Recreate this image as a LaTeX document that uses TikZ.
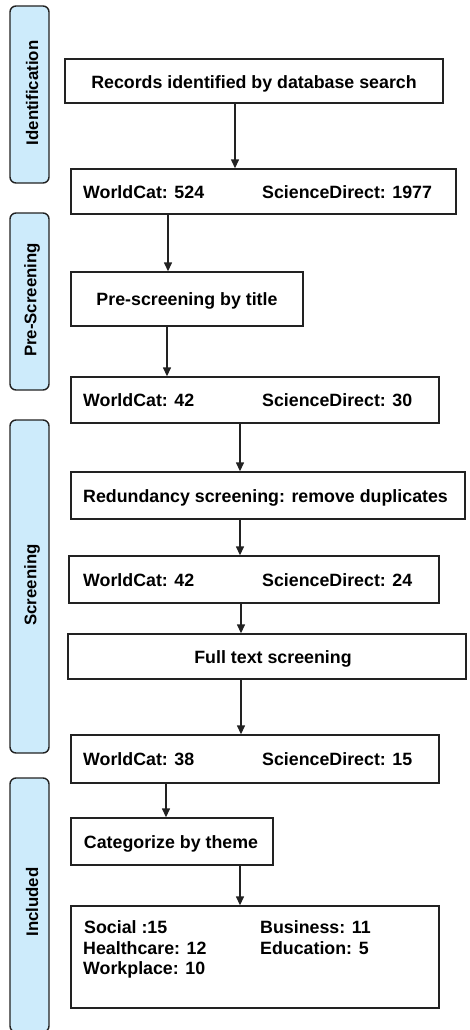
\documentclass[tikz,border=0pt]{standalone}
\usepackage{fontspec}
\setmainfont{Liberation Sans}
\usetikzlibrary{arrows.meta}
\definecolor{barblue}{HTML}{CDEBFB}
\definecolor{linegray}{HTML}{222222}
\tikzset{
  box/.style={draw=linegray, line width=1.4pt, rectangle, inner sep=0pt, fill=white},
  bar/.style={draw=linegray, line width=1.4pt, rectangle, rounded corners=6pt, fill=barblue, inner sep=0pt},
  barlabel/.style={rotate=90, font=\fontsize{16.8}{19}\selectfont\bfseries, inner sep=0pt},
  txt/.style={font=\fontsize{17.8}{20.5}\selectfont\bfseries, inner sep=0pt, anchor=base},
  ltxt/.style={txt, anchor=base west},
  arr/.style={line width=1.4pt, draw=linegray, -{Triangle[length=9pt,width=8pt]}}
}
\begin{document}
\begin{tikzpicture}[x=1pt,y=-1pt]
\useasboundingbox (0,0) rectangle (470,1030);
% side bars
\node[bar, minimum width=39pt, minimum height=177pt] (s1) at (29.5,94.5) {};
\node[bar, minimum width=39pt, minimum height=177pt] (s2) at (29.5,301.5) {};
\node[bar, minimum width=39pt, minimum height=333pt] (s3) at (29.5,586.5) {};
\node[bar, minimum width=39pt, minimum height=254pt] (s4) at (29.5,905) {};
\node[barlabel] (l1) at (32,93) {Identification};
\node[barlabel] (l2) at (32,300) {Pre-Screening};
\node[barlabel] (l3) at (32,585) {Screening};
\node[barlabel] (l4) at (32,902) {Included};
% boxes
\node[box, minimum width=378pt, minimum height=44pt] (b1) at (254,81) {};
\node[txt] (t1) at (254,88.5) {Records identified by database search};
\node[box, minimum width=385pt, minimum height=45pt] (b2) at (263.5,191.5) {};
\node[ltxt] (t2a) at (83,198) {WorldCat: 524};
\node[ltxt] (t2b) at (262,198) {ScienceDirect: 1977};
\node[box, minimum width=232pt, minimum height=54pt] (b3) at (187,299) {};
\node[txt] (t3) at (187,305.5) {Pre-screening by title};
\node[box, minimum width=368pt, minimum height=46pt] (b4) at (255,400) {};
\node[ltxt] (t4a) at (83,406.5) {WorldCat: 42};
\node[ltxt] (t4b) at (262,406.5) {ScienceDirect: 30};
\node[box, minimum width=394pt, minimum height=47pt] (b5) at (268,495.5) {};
\node[ltxt] (t5) at (83,502) {Redundancy screening: remove duplicates};
\node[box, minimum width=370pt, minimum height=47pt] (b6) at (254,579.5) {};
\node[ltxt] (t6a) at (83,586) {WorldCat: 42};
\node[ltxt] (t6b) at (262,586) {ScienceDirect: 24};
\node[box, minimum width=398pt, minimum height=45pt] (b7) at (267,656.5) {};
\node[txt] (t7) at (273,663) {Full text screening};
\node[box, minimum width=368pt, minimum height=48pt] (b8) at (255,759) {};
\node[ltxt] (t8a) at (83,765.5) {WorldCat: 38};
\node[ltxt] (t8b) at (262,765.5) {ScienceDirect: 15};
\node[box, minimum width=202pt, minimum height=47pt] (b9) at (172,841.5) {};
\node[txt] (t9) at (171,848) {Categorize by theme};
\node[box, minimum width=368pt, minimum height=102pt] (b10) at (255,957) {};
\node[ltxt] (t10a) at (84,933.5) {Social :15};
\node[ltxt] (t10b) at (83,954) {Healthcare: 12};
\node[ltxt] (t10c) at (83,974.5) {Workplace: 10};
\node[ltxt] (t10d) at (260,933.5) {Business: 11};
\node[ltxt] (t10e) at (260,954) {Education: 5};
% arrow x positions
\coordinate (x1) at (235,0);
\coordinate (x2) at (168,0);
\coordinate (x3) at (167,0);
\coordinate (x4) at (240,0);
\coordinate (x5) at (241,0);
\coordinate (x6) at (166,0);
\draw[arr] (b1.south -| x1) -- (b2.north -| x1);
\draw[arr] (b2.south -| x2) -- (b3.north -| x2);
\draw[arr] (b3.south -| x3) -- (b4.north -| x3);
\draw[arr] (b4.south -| x4) -- (b5.north -| x4);
\draw[arr] (b5.south -| x4) -- (b6.north -| x4);
\draw[arr] (b6.south -| x5) -- (b7.north -| x5);
\draw[arr] (b7.south -| x5) -- (b8.north -| x5);
\draw[arr] (b8.south -| x6) -- (b9.north -| x6);
\draw[arr] (b9.south -| x4) -- (b10.north -| x4);
\end{tikzpicture}
\end{document}
